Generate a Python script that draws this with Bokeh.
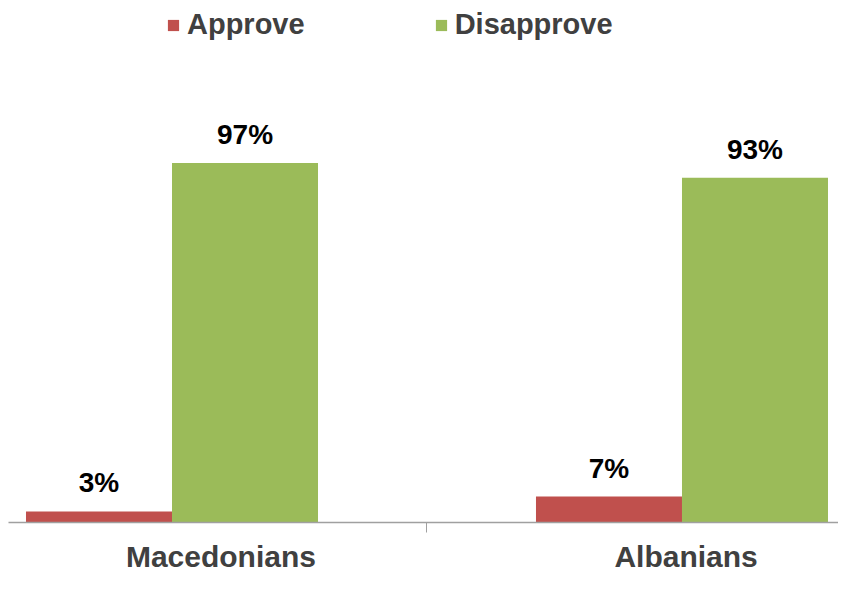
from bokeh.plotting import figure
from bokeh.models import (ColumnDataSource, Range1d, FixedTicker, LabelSet,
                          Legend, LegendItem)
from bokeh.core.properties import value
from bokeh.transform import dodge
from bokeh.embed import file_html
from bokeh.resources import INLINE

categories = ["Macedonians", "Albanians"]
approve = [3, 7]
disapprove = [97, 93]
series_names = ["Approve", "Disapprove"]
series_colors = ["#C0504D", "#9BBB59"]

xpos = list(range(len(categories)))
src = ColumnDataSource(dict(
    x=xpos,
    approve=approve,
    disapprove=disapprove,
    approve_lbl=[f"{v}%" for v in approve],
    disapprove_lbl=[f"{v}%" for v in disapprove],
))

FONT = "Liberation Sans"
bw = 0.2863
off = bw / 2
# where the category names sit (layout offsets from the category centres)
label_shift = [0.096, 0.008]
label_pos = [x + s for x, s in zip(xpos, label_shift)]

p = figure(width=838, height=575, output_backend="svg", toolbar_location=None,
           x_range=Range1d(-0.3206, 1.3069), y_range=Range1d(0, 140.8),
           y_axis_location=None, min_border_left=8, min_border_right=0,
           min_border_top=0, min_border_bottom=0)
p.outline_line_color = None
p.xgrid.grid_line_color = None
p.ygrid.grid_line_color = None
p.background_fill_color = "white"
p.border_fill_color = "white"

r1 = p.vbar(x=dodge("x", -off), top="approve", width=bw, source=src,
            color=series_colors[0], line_color=None)
r2 = p.vbar(x=dodge("x", off), top="disapprove", width=bw, source=src,
            color=series_colors[1], line_color=None)

for col, d in (("approve", -off), ("disapprove", off)):
    p.add_layout(LabelSet(x=dodge("x", d), y=col, text=col + "_lbl", source=src,
                          text_align="center", text_baseline="alphabetic",
                          y_offset=19, text_font=value(FONT),
                          text_font_style="bold",
                          text_font_size="28px", text_color="black"))

ax = p.xaxis[0]
ax.ticker = FixedTicker(ticks=label_pos, minor_ticks=[0.5])
ax.major_label_overrides = {lp: c for lp, c in zip(label_pos, categories)}
ax.major_tick_line_color = None
ax.major_tick_in = 0
ax.major_tick_out = 0
ax.minor_tick_in = 0
ax.minor_tick_out = 10
ax.minor_tick_line_color = "#A0A0A0"
ax.axis_line_color = "#A0A0A0"
ax.axis_line_width = 1.5
ax.major_label_text_font = FONT
ax.major_label_text_font_style = "bold"
ax.major_label_text_font_size = "30px"
ax.major_label_text_color = "#404040"
ax.major_label_standoff = 7

legend = Legend(items=[LegendItem(label=series_names[0], renderers=[r1]),
                       LegendItem(label=series_names[1], renderers=[r2])],
                orientation="horizontal", location=(158, 481),
                label_text_font=FONT, label_text_font_style="bold",
                label_text_font_size="29px", label_text_color="#404040",
                glyph_width=14, glyph_height=14, label_standoff=7,
                spacing=129, padding=0, margin=0,
                background_fill_alpha=0, border_line_color=None)
p.add_layout(legend)

open("out.html", "w").write(file_html(p, INLINE))
